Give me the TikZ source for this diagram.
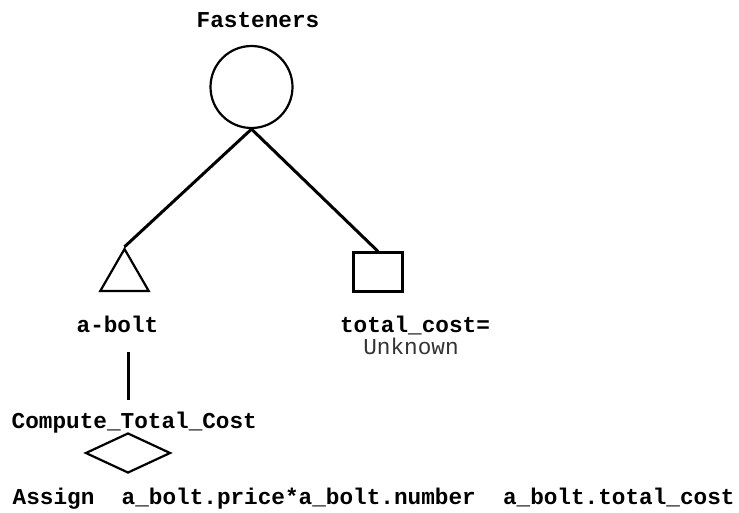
\documentclass[tikz,border=0pt]{standalone}
\usepackage{fontspec}
\setmainfont{Liberation Mono}
\usetikzlibrary{shapes.geometric}
\begin{document}
\begin{tikzpicture}[x=1pt,y=-1pt,
  shapeline/.style={draw=black,line width=2.2pt,inner sep=0pt,fill=none},
  conn/.style={draw=black,line width=3pt},
  lbl/.style={font=\fontsize{22.7}{26}\selectfont\bfseries,inner sep=0pt,anchor=base},
  lblreg/.style={font=\fontsize{22.7}{26}\selectfont,inner sep=0pt,anchor=base,text=black!80},
  lblwest/.style={font=\fontsize{22.7}{26}\selectfont\bfseries,inner sep=0pt,anchor=base west}]
\useasboundingbox (0,0) rectangle (739,512);
\node[shapeline,circle,minimum size=82pt] (circ) at (251.5,87) {};
\node[shapeline,regular polygon,regular polygon sides=3,minimum size=56pt] (tri) at (124.5,277) {};
\node[shapeline,rectangle,minimum width=49pt,minimum height=39pt] (sq) at (378,272) {};
\node[shapeline,diamond,aspect=2.15,minimum width=85pt,minimum height=40pt] (dia) at (128,453) {};
\draw[conn] (circ.south) -- (tri.corner 1);
\draw[conn] (circ.south) -- (sq.north);
\coordinate (vtop) at (128,352);
\coordinate (vbot) at (128,400);
\draw[conn] (vtop) -- (vbot);
\node[lbl] (fast) at (258,27) {Fasteners};
\node[lbl] (abolt) at (117.5,332) {a-bolt};
\node[lbl] (tc) at (415,332) {total\_cost=};
\node[lblreg] (unk) at (411,354.5) {Unknown};
\node[lblwest] (ctc) at (11.5,428) {Compute\_Total\_Cost};
\node[lblwest] (assign) at (12.5,504) {Assign~~a\_bolt.price*a\_bolt.number~~a\_bolt.total\_cost};
\end{tikzpicture}
\end{document}
